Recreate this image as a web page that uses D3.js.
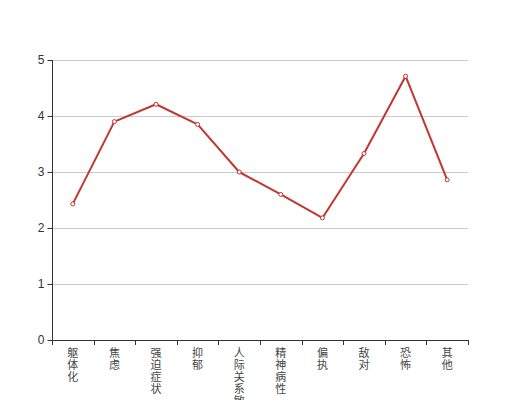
<!DOCTYPE html>
<html><head><meta charset="utf-8">
<script src="https://cdn.jsdelivr.net/npm/d3@7/dist/d3.min.js"></script>
<style>body{margin:0;background:#fff;} svg{display:block;font-family:"Noto Sans CJK SC","Noto Sans",sans-serif;}</style>
</head><body><svg id="c" width="520" height="400"></svg>
<script>
const categories = ["躯体化","焦虑","强迫症状","抑郁","人际关系敏感","精神病性","偏执","敌对","恐怖","其他"];
const values = [2.43, 3.9, 4.21, 3.85, 3.0, 2.6, 2.18, 3.33, 4.71, 2.86];
const yTicks = [0,1,2,3,4,5];

(function(){
const svg = d3.select("#c");
const mL = 52, mR = 468, mT = 60, mB = 340;
const x = d3.scaleBand().domain(categories).range([mL, mR]).padding(0);
const y = d3.scaleLinear().domain([0,5]).range([mB, mT]);

// grid
svg.append("g").selectAll("line").data(yTicks.filter(d=>d>0)).join("line")
  .attr("x1", mL).attr("x2", mR)
  .attr("y1", d=>y(d)+0.5).attr("y2", d=>y(d)+0.5)
  .attr("stroke", "#ccc").attr("stroke-width", 1);

// y axis
const ya = svg.append("g").attr("transform", `translate(${mL+0.5},0)`)
  .call(d3.axisLeft(y).tickValues(yTicks).tickSize(5).tickPadding(3).tickFormat(d3.format("d")));
ya.select(".domain").attr("stroke", "#333").attr("d", `M0,${y(0)+0.5}V${y(5)}`);
ya.selectAll(".tick line").attr("stroke", "#333");
ya.selectAll(".tick text").attr("fill", "#333").style("font-size", "12px").attr("font-family", "'Liberation Sans',Arial,sans-serif");
ya.selectAll(".tick").attr("transform", d=>`translate(0,${y(d)+0.5})`);

// x axis
const xa = svg.append("g");
xa.append("line").attr("x1", mL).attr("x2", mR+0.5).attr("y1", mB+0.5).attr("y2", mB+0.5).attr("stroke", "#333");
const bounds = categories.map(c=>x(c)).concat([mR]);
xa.selectAll(".tk").data(bounds).join("line").attr("class","tk")
  .attr("x1", d=>Math.round(d)+0.5).attr("x2", d=>Math.round(d)+0.5)
  .attr("y1", mB).attr("y2", mB+5).attr("stroke", "#333");
const lbl = xa.selectAll(".lb").data(categories).join("text").attr("class","lb")
  .attr("fill", "#444").style("font-size", "11px").attr("text-anchor", "middle");
lbl.each(function(c){
  const t = d3.select(this);
  Array.from(c).forEach((ch,i)=>{
    t.append("tspan").attr("x", x(c)+x.bandwidth()/2).attr("y", 357 + i*12).text(ch);
  });
});

// line
const px = c => x(c) + x.bandwidth()/2;
svg.append("path").datum(values)
  .attr("fill", "none").attr("stroke", "#c23531").attr("stroke-width", 2).attr("stroke-linejoin","round")
  .attr("d", d3.line().x((d,i)=>px(categories[i])).y(d=>y(d)));
svg.append("g").selectAll("circle").data(values).join("circle")
  .attr("cx", (d,i)=>px(categories[i])).attr("cy", d=>y(d)).attr("r", 2)
  .attr("fill", "#fff").attr("stroke", "#c23531").attr("stroke-width", 1);
})();
</script></body></html>
